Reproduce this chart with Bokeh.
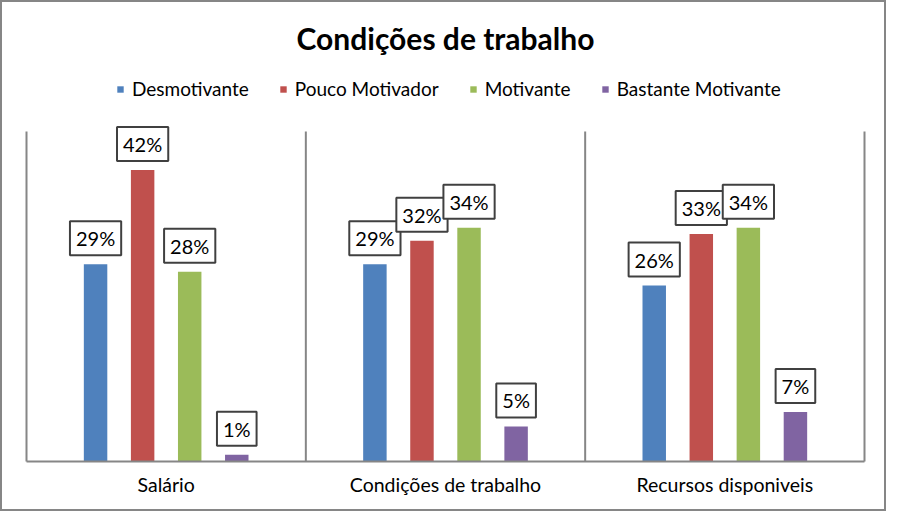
from bokeh.plotting import figure
from bokeh.models import (ColumnDataSource, Legend, LegendItem, LinearAxis,
                          FixedTicker, FactorRange, Range1d, Label)
from bokeh.transform import dodge
from bokeh.core.properties import value
from bokeh.embed import file_html
from bokeh.resources import INLINE

# ---- data ----
title_text = "Condições de trabalho"
categories = ["Salário", "Condições de trabalho", "Recursos disponiveis"]
series_names = ["Desmotivante", "Pouco Motivador", "Motivante", "Bastante Motivante"]
desmotivante = [0.287, 0.287, 0.256]
pouco_motivador = [0.424, 0.321, 0.331]
motivante = [0.276, 0.340, 0.340]
bastante_motivante = [0.010, 0.051, 0.072]
colors = ["#4F81BD", "#C0504D", "#9BBB59", "#8064A2"]

all_series = [desmotivante, pouco_motivador, motivante, bastante_motivante]

FONT = "Lato"
GRAY = "#868686"
W, H = 886, 511
BOTTOM = 52
PLOT_TOP_VALUE = 0.48          # value at the top edge of the plotting area
PLOT_AREA_H = 330              # px from baseline to top of plotting area
FRAME_H = H - BOTTOM
Y_END = PLOT_TOP_VALUE * FRAME_H / PLOT_AREA_H

data = {"cat": categories}
for i, vals in enumerate(all_series):
    data[f"s{i}"] = vals
    data[f"l{i}"] = [f"{round(v * 100)}%" for v in vals]
src = ColumnDataSource(data)

p = figure(x_range=FactorRange(factors=categories), y_range=Range1d(0, Y_END),
           width=W, height=H, output_backend="svg", toolbar_location=None,
           title_location=None,
           min_border_left=24, min_border_right=24, min_border_top=0,
           min_border_bottom=BOTTOM)

p.styles = {"border": f"2px solid {GRAY}"}
p.outline_line_color = None
p.xgrid.visible = False
p.ygrid.visible = False

# side lines of the plotting area (axes limited to the plotting area)
for ax in p.yaxis:
    ax.ticker = FixedTicker(ticks=[])
    ax.major_tick_line_color = None
    ax.minor_tick_line_color = None
    ax.axis_line_color = GRAY
    ax.axis_line_width = 2
    ax.bounds = (0, PLOT_TOP_VALUE)
right = LinearAxis(ticker=FixedTicker(ticks=[]), major_tick_line_color=None,
                   minor_tick_line_color=None, axis_line_color=GRAY,
                   axis_line_width=2, bounds=(0, PLOT_TOP_VALUE))
p.add_layout(right, "right")

xa = p.xaxis[0]
xa.major_tick_line_color = None
xa.minor_tick_line_color = None
xa.axis_line_color = GRAY
xa.axis_line_width = 2
xa.major_label_text_font = FONT
xa.major_label_text_font_size = "19.5px"
xa.major_label_text_color = "black"
xa.major_label_standoff = 5

# separators between categories
sep_x = list(range(1, len(categories)))
p.segment(x0=sep_x, y0=[0] * len(sep_x), x1=sep_x, y1=[PLOT_TOP_VALUE] * len(sep_x),
          line_color=GRAY, line_width=2)

bar_w = 0.084
step = 0.1685
offsets = [(i - 1.5) * step for i in range(4)]

items = []
for i, name in enumerate(series_names):
    r = p.vbar(x=dodge("cat", offsets[i], range=p.x_range), top=f"s{i}", width=bar_w,
               source=src, fill_color=colors[i], line_color=None)
    items.append(LegendItem(label=name, renderers=[r]))

for i in range(4):
    p.text(x=dodge("cat", offsets[i], range=p.x_range), y=f"s{i}", text=f"l{i}",
           source=src, text_align="center", text_baseline="bottom", y_offset=-9,
           text_font=value(FONT), text_font_size="20px", text_color="black",
           padding={"left": 6, "right": 6, "top": 5, "bottom": 5},
           background_fill_color="white", border_line_color="#404040",
           border_line_width=2)

# title
p.add_layout(Label(x=len(categories) / 2, y=FRAME_H - 35, y_units="screen",
                   text=title_text, text_align="center", text_baseline="middle",
                   text_font=FONT, text_font_size="30px", text_font_style="bold",
                   text_color="black"))

legend = Legend(items=items, orientation="horizontal", location=(90, FRAME_H - 98),
                glyph_width=8, glyph_height=8, label_standoff=8, spacing=30,
                padding=0, margin=0, border_line_color=None,
                background_fill_alpha=0, label_text_font=FONT,
                label_text_font_size="19px", label_text_color="black")
p.add_layout(legend)

open("out.html", "w").write(file_html(p, INLINE))
